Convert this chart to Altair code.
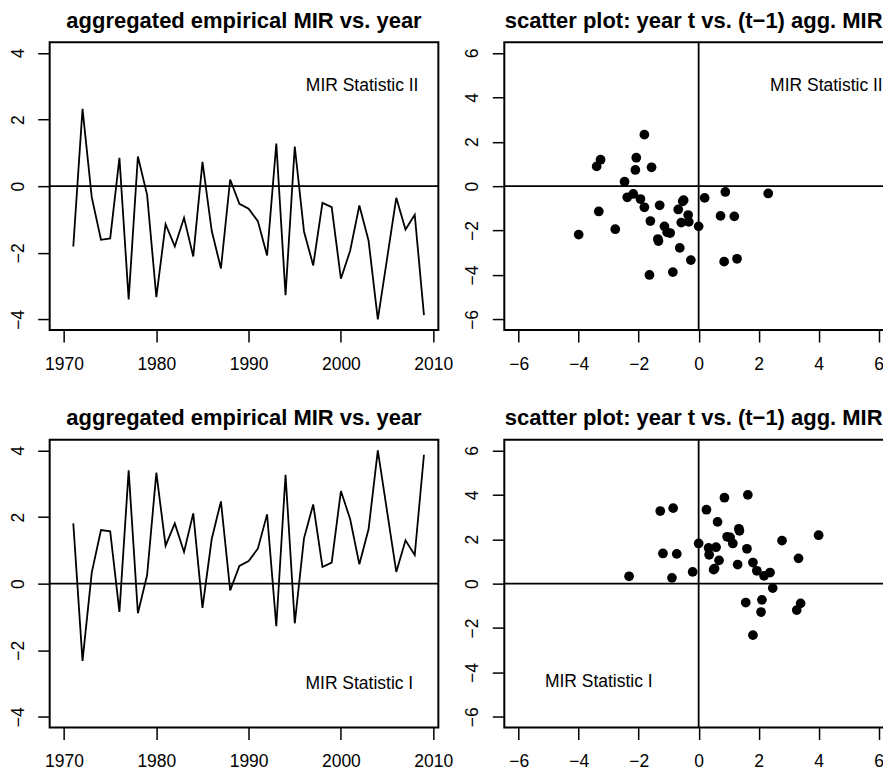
import altair as alt
import pandas as pd

# ---------------- data ----------------
years = list(range(1971, 2010))

mir_stat_2 = [-1.81, 2.32, -0.33, -1.61, -1.57, 0.85, -3.40, 0.89, -0.26, -3.33,
              -1.14, -1.81, -0.95, -2.11, 0.73, -1.34, -2.47, 0.20, -0.53, -0.68,
              -1.05, -2.08, 1.28, -3.27, 1.19, -1.36, -2.38, -0.50, -0.63, -2.78,
              -1.94, -0.58, -1.64, -4.00, -2.18, -0.35, -1.30, -0.86, -3.87]

mir_stat_1 = [1.81, -2.32, 0.33, 1.61, 1.57, -0.85, 3.40, -0.89, 0.26, 3.33,
              1.14, 1.81, 0.95, 2.11, -0.73, 1.34, 2.47, -0.20, 0.53, 0.68,
              1.05, 2.08, -1.28, 3.27, -1.19, 1.36, 2.38, 0.50, 0.63, 2.78,
              1.94, 0.58, 1.64, 4.00, 2.18, 0.35, 1.30, 0.86, 3.87]

year_ticks = [1970, 1980, 1990, 2000, 2010]
ts_ticks = [-4, -2, 0, 2, 4]
sc_ticks = [-6, -4, -2, 0, 2, 4, 6]

title_ts = "aggregated empirical MIR vs. year"
title_sc = "scatter plot: year t vs. (t\u22121) agg. MIR"

label_2 = "MIR Statistic II"
label_1 = "MIR Statistic I"

# annotation anchors (data coordinates, as in R's text(x, y, ...))
ann_ts_2 = (2002.3, 3.0)
ann_ts_1 = (2002.0, -3.0)
ann_sc_2 = (4.26, 4.53)
ann_sc_1 = (-3.33, -4.42)

# ---------------- styling ----------------
FONT = "Liberation Sans"
W, H = 389, 288
TICK = 12
FS = 17.5


def x_axis(values, fmt=None):
    kw = dict(values=values, title=None, grid=False, domain=False,
              tickSize=TICK, tickWidth=1.5, tickColor="black",
              labelFont=FONT, labelFontSize=FS, labelColor="black",
              labelPadding=27.3, labelBaseline="alphabetic", labelAlign="center",
              labelFlush=False, labelOverlap=False)
    if fmt:
        kw["format"] = fmt
    return alt.Axis(**kw)


def y_axis(values):
    return alt.Axis(values=values, title=None, grid=False, domain=False,
                    tickSize=TICK, tickWidth=1.5, tickColor="black",
                    labelFont=FONT, labelFontSize=FS, labelColor="black",
                    labelPadding=14.6, labelAngle=270, labelBaseline="alphabetic",
                    labelAlign="center", labelFlush=False, labelOverlap=False)


def title_mark(text, shift=0.0):
    d = pd.DataFrame({"t": [text]})
    return alt.Chart(d).mark_text(font=FONT, fontSize=22, fontWeight="bold",
                                  color="black", align="center",
                                  baseline="alphabetic").encode(
        x=alt.value(W / 2 + shift), y=alt.value(-14.3), text="t:N")


def annotation(pos, text, xscale, yscale):
    d = pd.DataFrame({"x": [pos[0]], "y": [pos[1]], "t": [text]})
    return alt.Chart(d).mark_text(font=FONT, fontSize=FS, color="black",
                                  align="center", baseline="middle").encode(
        x=alt.X("x:Q", scale=xscale), y=alt.Y("y:Q", scale=yscale), text="t:N")


def ts_panel(values, label, ann):
    df = pd.DataFrame({"year": years, "v": values})
    xs = alt.Scale(domain=[1968.44, 2010.56], nice=False, zero=False)
    ys = alt.Scale(domain=[-4.32, 4.32], nice=False, zero=False)
    line = alt.Chart(df).mark_line(color="black", strokeWidth=1.8).encode(
        x=alt.X("year:Q", scale=xs, axis=x_axis(year_ticks, "d")),
        y=alt.Y("v:Q", scale=ys, axis=y_axis(ts_ticks)),
    )
    zero = alt.Chart(pd.DataFrame({"z": [0]})).mark_rule(
        color="black", strokeWidth=1.8).encode(y=alt.Y("z:Q", scale=ys))
    txt = annotation(ann, label, xs, ys)
    return alt.layer(line, zero, txt, title_mark(title_ts)).properties(
        width=W, height=H)


def sc_panel(values, label, ann):
    lag = [0.0] + values[:-1]
    df = pd.DataFrame({"prev": lag, "cur": values})
    xs = alt.Scale(domain=[-6.48, 6.48], nice=False, zero=False)
    ys = alt.Scale(domain=[-6.48, 6.48], nice=False, zero=False)
    pts = alt.Chart(df).mark_circle(color="black", opacity=1, size=95).encode(
        x=alt.X("prev:Q", scale=xs, axis=x_axis(sc_ticks)),
        y=alt.Y("cur:Q", scale=ys, axis=y_axis(sc_ticks)),
    )
    zero_d = pd.DataFrame({"z": [0]})
    hz = alt.Chart(zero_d).mark_rule(color="black", strokeWidth=1.8).encode(
        y=alt.Y("z:Q", scale=ys))
    vz = alt.Chart(zero_d).mark_rule(color="black", strokeWidth=1.8).encode(
        x=alt.X("z:Q", scale=xs))
    txt = annotation(ann, label, xs, ys)
    # nudged a little left so that it stays inside the page
    return alt.layer(pts, hz, vz, txt, title_mark(title_sc, -5)).properties(
        width=W, height=H)


tl = ts_panel(mir_stat_2, label_2, ann_ts_2)
tr = sc_panel(mir_stat_2, label_2, ann_sc_2)
bl = ts_panel(mir_stat_1, label_1, ann_ts_1)
br = sc_panel(mir_stat_1, label_1, ann_sc_1)

# the right-hand panels run past the page edge in the reference, so the
# right padding is negative: the svg then stays within the page and clips them
chart = alt.ConcatChart(
    concat=[tl, tr, bl, br], columns=2,
    spacing={"row": 109.8, "column": 66}, bounds="flush",
    padding={"left": -0.3, "top": 0, "right": -12, "bottom": 0},
    background="white",
).configure_view(stroke="black", strokeWidth=2)

chart.save("out.html", embed_options={"renderer": "svg", "actions": False})
